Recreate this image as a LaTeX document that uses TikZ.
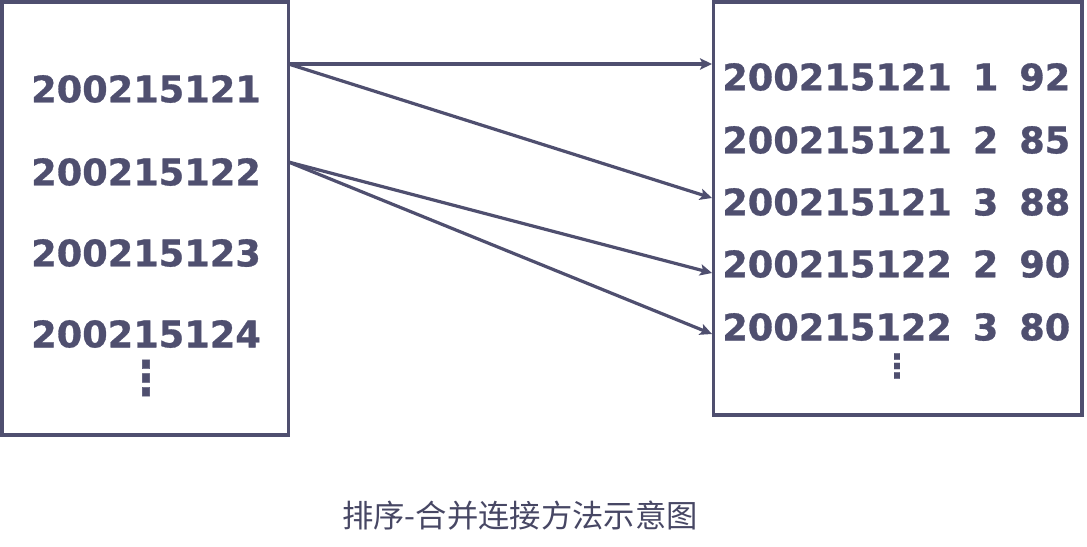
\documentclass[tikz,border=0pt]{standalone}
\usepackage{fontspec}
\usetikzlibrary{arrows.meta}
\newfontfamily\numfont{DejaVu Sans}[BoldFont={DejaVu Sans Bold},BoldFeatures={FakeBold=0.8}]
\newfontfamily\cjkfont{Noto Sans CJK SC}
\definecolor{ink}{RGB}{79,79,111}
\begin{document}
\begin{tikzpicture}[x=0.75pt,y=-0.75pt,
  frame/.style={draw=ink,line width=2.4pt,inner sep=0pt,outer sep=0pt},
  rowtext/.style={text=ink,font=\numfont\bfseries\fontsize{27.5}{30}\selectfont,inner sep=0pt},
  dotstext/.style={text=ink,font=\numfont\bfseries\fontsize{27}{30}\selectfont,inner sep=0pt},
  link/.style={draw=ink,line width=2.4pt,-{Stealth[length=9pt,width=8.5pt,inset=2pt]}},
  caption/.style={text=ink!90!black,font=\cjkfont\fontsize{23.5}{27}\selectfont,inner sep=0pt}]
\useasboundingbox (0,0) rectangle (1087,546);
% boxes
\node[frame,minimum width=214.9pt,minimum height=324.75pt] (lbox) at (145.25,218.5) {};
\node[frame,minimum width=276.4pt,minimum height=309.75pt] (rbox) at (897.75,208.5) {};
% left rows
\node[rowtext] (L1) at (146,89) {200215121};
\node[rowtext] (L2) at (146,172) {200215122};
\node[rowtext] (L3) at (146,253) {200215123};
\node[rowtext] (L4) at (146,334) {200215124};
\node[dotstext] (Ld) at (146,378) {\scalebox{1.15}[1.3]{⋮}};
% right rows
\node[rowtext,anchor=west] (R1) at (722,77) {200215121\hspace{0.57em}1\hspace{0.57em}92};
\node[rowtext,anchor=west] (R2) at (722,140) {200215121\hspace{0.57em}2\hspace{0.57em}85};
\node[rowtext,anchor=west] (R3) at (722,202) {200215121\hspace{0.57em}3\hspace{0.57em}88};
\node[rowtext,anchor=west] (R4) at (722,264) {200215122\hspace{0.57em}2\hspace{0.57em}90};
\node[rowtext,anchor=west] (R5) at (722,327) {200215122\hspace{0.57em}3\hspace{0.57em}80};
\node[dotstext] (Rd) at (897,366) {\scalebox{0.9}[0.9]{⋮}};
% connector end points on the box borders
\coordinate (s1) at (lbox.east |- 0,64);
\coordinate (s2) at (lbox.east |- 0,162);
\coordinate (e1) at (712,64);
\coordinate (e3) at (712,198);
\coordinate (e4) at (712,273);
\coordinate (e5) at (712,334);
\draw[link] (s1) -- (e1);
\draw[link] (s1) -- (e3);
\draw[link] (s2) -- (e4);
\draw[link] (s2) -- (e5);
% caption
\node[caption] (cap) at (520,516) {排序-合并连接方法示意图};
\end{tikzpicture}
\end{document}
